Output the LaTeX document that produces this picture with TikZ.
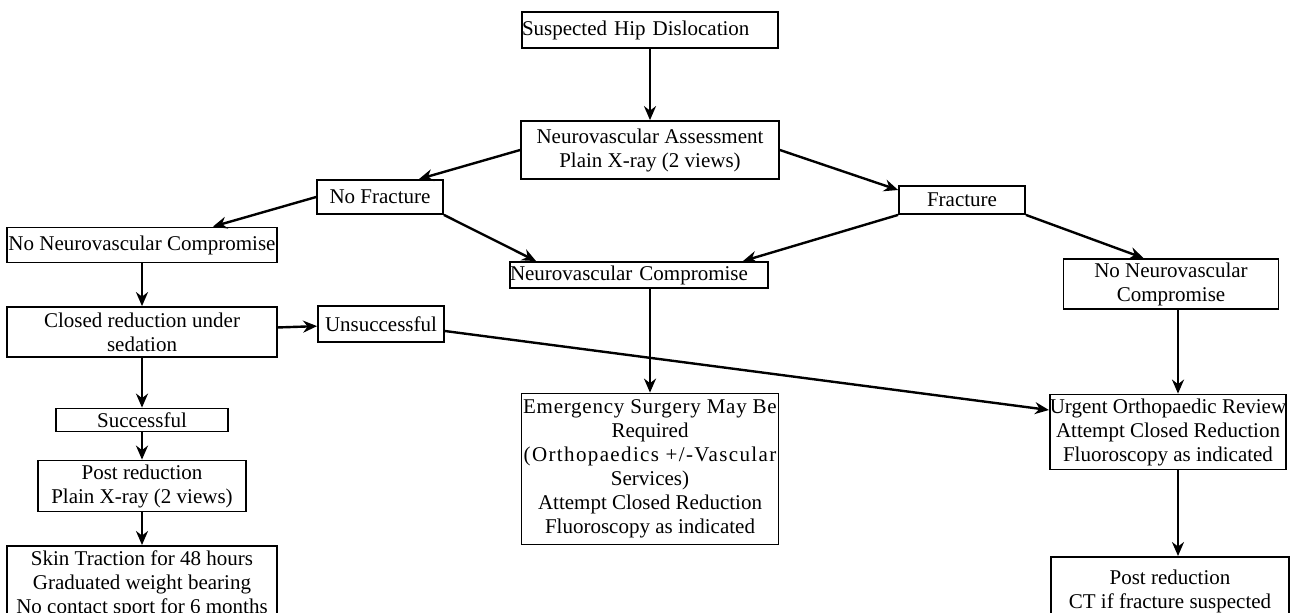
\documentclass[tikz,border=0pt]{standalone}
\usepackage{fontspec}
\setmainfont{Liberation Serif}
\usetikzlibrary{arrows.meta,calc}

\begin{document}
\begin{tikzpicture}[x=0.5pt,y=-0.5pt,
    box/.style={draw,line width=.9pt,inner sep=0pt,align=center,font=\fontsize{10.5}{12}\selectfont},
    lbox/.style={box,align=left,text width=#1},
    arr/.style={-{Stealth[length=7pt,width=6pt]},line width=1.2pt}]
  \useasboundingbox (0,0) rectangle (1296,612);
  % Top of the chart
  \node[lbox=128pt,minimum height=18pt] (susp)  at (650,30)   {Suspected Hip Dislocation};
  \node[box,minimum width=129pt,minimum height=29pt] (neuro) at (650,150)
        {Neurovascular Assessment\\Plain X-ray (2 views)};
  \node[box,minimum width=63pt,minimum height=17pt] (nofrac) at (380,197) {No Fracture};
  \node[box,minimum width=63pt,minimum height=14pt] (frac)   at (962,200) {Fracture};
  \draw[arr] (susp) -- (neuro);
  \draw[arr] (neuro.west) -- ($(nofrac.north east)+(-25,0)$);
  \draw[arr] (neuro.east) -- ($(frac.west)+(0,-10)$);
  % Left-hand side part of the chart
  \node[box,minimum width=135pt,minimum height=17.5pt] (nncL) at (142,245) {No Neurovascular Compromise};
  \node[box,minimum width=135pt,minimum height=25pt] (closed) at (142,332) {Closed reduction under\\sedation};
  \node[box,minimum width=63pt,minimum height=18pt] (unsucc) at (381,324) {Unsuccessful};
  \node[box,minimum width=86pt,minimum height=11.5pt] (succ) at (142,420) {Successful};
  \node[box,minimum width=104pt,minimum height=25.5pt] (postxr) at (142,486)
        {Post reduction\\Plain X-ray (2 views)};
  \node[box,minimum width=135pt,minimum height=38pt,anchor=north] (skin) at (142,545)
        {Skin Traction for 48 hours\\Graduated weight bearing\\No contact sport for 6 months};
  \draw[arr] (nofrac.west) -- ($(nncL.north east)+(-65,0)$);
  \draw[arr] (nncL) -- (closed);
  \draw[arr] (closed) -- (unsucc);
  \draw[arr] (closed) -- (succ);
  \draw[arr] (succ) -- (postxr);
  \draw[arr] (postxr) -- (skin);
  % Middle part of the chart
  \node[lbox=129pt,minimum height=13pt] (ncomp) at (639,275) {Neurovascular Compromise};
  \node[box,minimum width=128.5pt,minimum height=75.5pt] (emerg) at (650,469)
        {{\addfontfeatures{LetterSpace=3.5}Emergency Surgery May Be}\\Required\\
         {\addfontfeatures{LetterSpace=6.5}(Orthopaedics +/-Vascular}\\Services)\\
         Attempt Closed Reduction\\Fluoroscopy as indicated};
  \draw[arr] (nofrac.south east) -- ($(ncomp.north west)+(27,0)$);
  \draw[arr] (frac.south west) -- ($(ncomp.north east)+(-26,0)$);
  \draw[arr] (emerg.north |- ncomp.south) -- (emerg.north);
  % Right-hand side part of the chart
  \node[box,minimum width=107.5pt,minimum height=25pt] (nncR) at (1171,284) {No Neurovascular\\Compromise};
  \node[box,minimum width=117.5pt,minimum height=37.5pt] (urgent) at (1168,432)
        {Urgent Orthopaedic Review\\Attempt Closed Reduction\\Fluoroscopy as indicated};
  \node[box,minimum width=119pt,minimum height=35pt,anchor=north] (postct) at (1170,556)
        {Post reduction\\CT if fracture suspected};
  \draw[arr] (frac.south east) -- ($(nncR.north west)+(81,0)$);
  \draw[arr] ($(unsucc.east)+(0,7)$) -- ($(urgent.west)+(0,-22)$);
  \draw[arr] ([xshift=5pt]urgent.north |- nncR.south) -- ([xshift=5pt]urgent.north);
  \draw[arr] ([xshift=5pt]urgent.south) -- ([xshift=5pt]urgent.south |- postct.north);
\end{tikzpicture}
\end{document}
